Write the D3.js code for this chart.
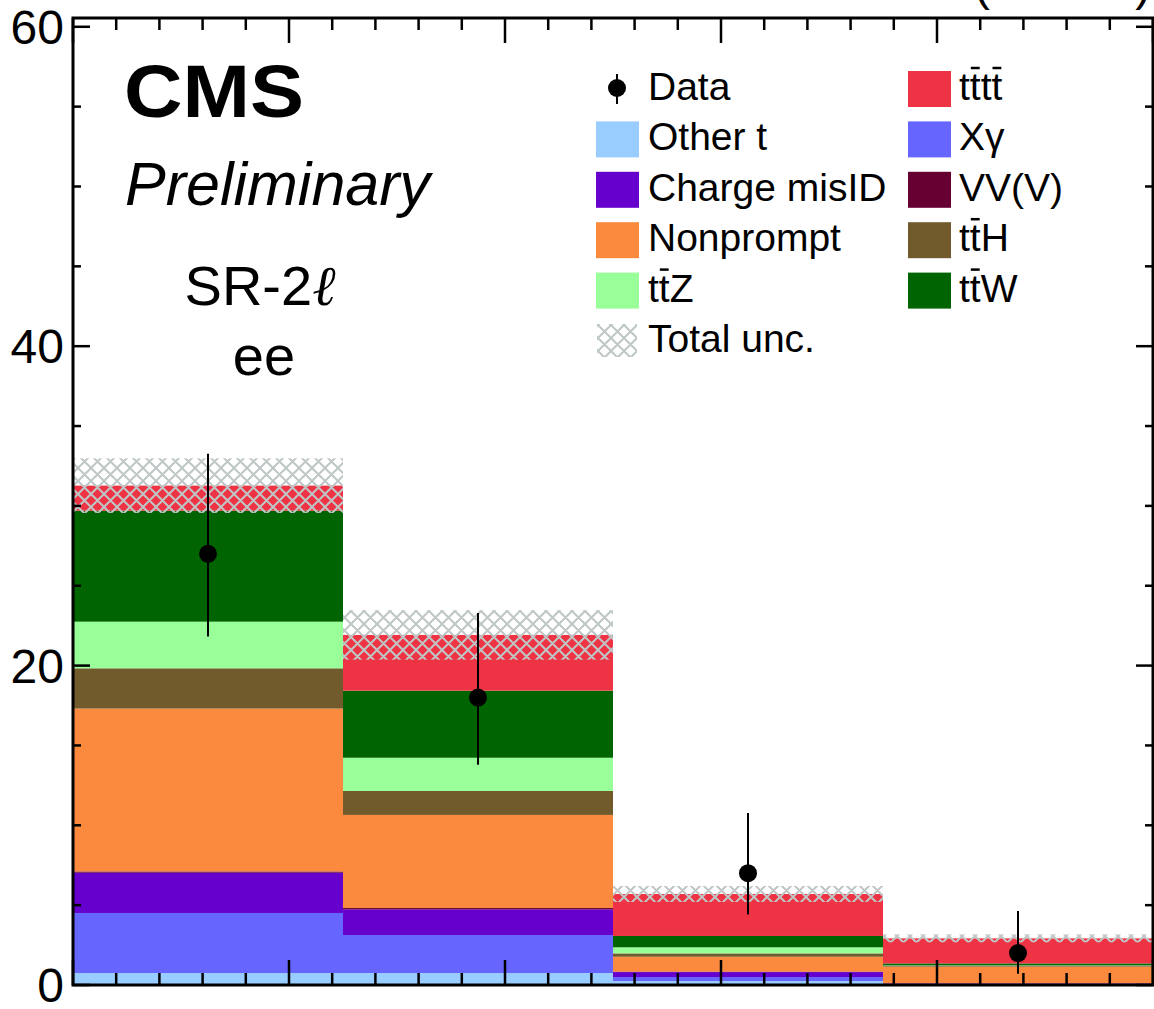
<!DOCTYPE html>
<html>
<head>
<meta charset="utf-8">
<script src="https://cdn.jsdelivr.net/npm/d3@7"></script>
<style>
  body { margin: 0; background: #fff; }
  svg { display: block; }
  text { font-family: "Liberation Sans", Arial, sans-serif; fill: #000; }
</style>
</head>
<body>
<script>
// stacked SR-2l ee yields, 4 bins

// stack order, bottom to top
var processes = ["Other t", "Xγ", "Charge misID", "VV(V)", "Nonprompt", "t[t]H", "t[t]Z", "t[t]W", "t[t]t[t]"];
var colors = ["#99ccff", "#6666ff", "#6600cc", "#660033", "#fb8a3e", "#715b2c", "#99ff99", "#006400", "#ee3344"];

var otherT      = [0.75, 0.75, 0.25, 0.03];
var xGamma      = [3.76, 2.38, 0.25, 0.03];
var chargeMisID = [2.52, 1.61, 0.31, 0.04];
var vvv         = [0.08, 0.08, 0.03, 0.01];
var nonprompt   = [10.2, 5.83, 0.93, 1.04];
var ttH         = [2.52, 1.50, 0.21, 0.06];
var ttZ         = [2.92, 2.08, 0.38, 0.02];
var ttW         = [6.95, 4.20, 0.71, 0.12];
var tttt        = [1.57, 3.49, 2.63, 1.57];

var totalUnc = [1.71, 1.55, 0.50, 0.25];

var dataCounts = [27, 18, 7, 2];
var dataErrUp  = [6.26, 5.29, 3.77, 2.64];
var dataErrDn  = [5.18, 4.21, 2.58, 1.29];

var yTickLabels = [0, 20, 40, 60];

// legend columns
var legendLeft  = ["Data", "Other t", "Charge misID", "Nonprompt", "t[t]Z", "Total unc."];
var legendRight = ["t[t]t[t]", "Xγ", "VV(V)", "t[t]H", "t[t]W"];

var W = 1154, H = 1009;
var pLeft = 73, pRight = 1153, pTop = 18, pBottom = 985;

var svg = d3.select("body").append("svg")
    .attr("width", W)
    .attr("height", H);

var defs = svg.append("defs");
var pat = defs.append("pattern")
    .attr("id", "hatch")
    .attr("patternUnits", "userSpaceOnUse")
    .attr("width", 13)
    .attr("height", 13);
pat.append("path")
    .attr("d", "M0,0L13,13M13,0L0,13M-2,11L2,15M11,-2L15,2M-2,2L2,-2M11,15L15,11")
    .attr("stroke", "#bec6c6")
    .attr("stroke-width", 2)
    .attr("fill", "none");

var x = d3.scaleLinear().domain([0, 4]).range([pLeft, pRight]);
var y = d3.scaleLinear().domain([0, 60.55]).range([pBottom, pTop]);

var series = [otherT, xGamma, chargeMisID, vvv, nonprompt, ttH, ttZ, ttW, tttt];
var table = d3.range(4).map(function(i) {
    var row = { bin: i };
    series.forEach(function(s, k) { row[k] = s[i]; });
    return row;
});
var stack = d3.stack().keys(d3.range(series.length))(table);

var plot = svg.append("g");

stack.forEach(function(layer, k) {
    plot.selectAll(null)
        .data(layer)
        .enter()
        .append("rect")
        .attr("x", function(d) { return x(d.data.bin); })
        .attr("width", x(1) - x(0))
        .attr("y", function(d) { return y(d[1]); })
        .attr("height", function(d) { return y(d[0]) - y(d[1]); })
        .attr("fill", colors[k]);
});

// total uncertainty band
var totals = table.map(function(r, i) {
    return d3.sum(series, function(s) { return s[i]; });
});
plot.selectAll(null)
    .data(totals)
    .enter()
    .append("rect")
    .attr("x", function(d, i) { return x(i); })
    .attr("width", x(1) - x(0))
    .attr("y", function(d, i) { return y(d + totalUnc[i]); })
    .attr("height", function(d, i) { return y(d - totalUnc[i]) - y(d + totalUnc[i]); })
    .attr("fill", "url(#hatch)");

// data points
plot.selectAll(null)
    .data(dataCounts)
    .enter()
    .append("line")
    .attr("x1", function(d, i) { return x(i + 0.5); })
    .attr("x2", function(d, i) { return x(i + 0.5); })
    .attr("y1", function(d, i) { return y(d + dataErrUp[i]); })
    .attr("y2", function(d, i) { return y(d - dataErrDn[i]); })
    .attr("stroke", "#000")
    .attr("stroke-width", 2);
plot.selectAll(null)
    .data(dataCounts)
    .enter()
    .append("circle")
    .attr("cx", function(d, i) { return x(i + 0.5); })
    .attr("cy", function(d) { return y(d); })
    .attr("r", 9)
    .attr("fill", "#000");

// frame and ticks
var axes = svg.append("g").attr("stroke", "#000").attr("stroke-width", 3);
axes.append("rect")
    .attr("x", pLeft).attr("y", pTop)
    .attr("width", pRight - pLeft).attr("height", pBottom - pTop)
    .attr("fill", "none");

d3.range(0, 61, 5).forEach(function(v) {
    var major = v % 20 == 0;
    var len = major ? 17 : 8;
    axes.append("line").attr("x1", pLeft).attr("x2", pLeft + len)
        .attr("y1", y(v)).attr("y2", y(v)).attr("stroke-width", 2.5);
    axes.append("line").attr("x1", pRight).attr("x2", pRight - len)
        .attr("y1", y(v)).attr("y2", y(v)).attr("stroke-width", 2.5);
});

d3.range(0, 26).forEach(function(k) {
    var v = k * 0.16;
    if (v > 4.001) return;
    var major = k % 5 == 0;
    var len = major ? 25 : 12;
    axes.append("line").attr("x1", x(v)).attr("x2", x(v))
        .attr("y1", pBottom).attr("y2", pBottom - len).attr("stroke-width", 2.5);
    axes.append("line").attr("x1", x(v)).attr("x2", x(v))
        .attr("y1", pTop).attr("y2", pTop + len).attr("stroke-width", 2.5);
});

svg.selectAll(null)
    .data(yTickLabels)
    .enter()
    .append("text")
    .attr("x", 64)
    .attr("y", function(d) { return y(d) + 17; })
    .attr("text-anchor", "end")
    .attr("font-size", 48)
    .text(function(d) { return d; });

// lumi label, mostly off the top of the picture
svg.append("text")
    .attr("x", 1151).attr("y", 0)
    .attr("text-anchor", "end")
    .attr("font-size", 47)
    .text("137 fb⁻¹ (13 TeV)");

svg.append("text")
    .attr("x", 124).attr("y", 117)
    .attr("font-size", 74)
    .attr("font-weight", "bold")
    .attr("textLength", 180)
    .attr("lengthAdjust", "spacingAndGlyphs")
    .text("CMS");
svg.append("text")
    .attr("x", 125).attr("y", 205)
    .attr("font-size", 61)
    .attr("font-style", "italic")
    .text("Preliminary");

var sr = svg.append("text")
    .attr("x", 260).attr("y", 305)
    .attr("text-anchor", "middle")
    .attr("font-size", 56);
sr.append("tspan").text("SR-2");
sr.append("tspan")
    .style("font-family", "'DejaVu Serif', serif")
    .style("font-style", "italic")
    .text("ℓ");
svg.append("text")
    .attr("x", 264).attr("y", 375)
    .attr("text-anchor", "middle")
    .attr("font-size", 56)
    .text("ee");

// label with [t] meaning t-bar; the bar is drawn over the glyph afterwards
function addLabel(sel, label, lx, ly) {
    var t = sel.append("text").attr("font-size", 39).attr("x", lx).attr("y", ly);
    var bars = [];
    var plain = "";
    label.split(/(\[t\])/).forEach(function(part) {
        if (part == "") return;
        if (part == "[t]") {
            bars.push(plain.length);
            plain += "t";
        } else {
            plain += part;
        }
    });
    t.text(plain);
    bars.forEach(function(ci) {
        var ext = t.node().getExtentOfChar(ci);
        sel.append("line")
            .attr("x1", ext.x + 1).attr("x2", ext.x + ext.width - 1)
            .attr("y1", ly - 32).attr("y2", ly - 32)
            .attr("stroke", "#000").attr("stroke-width", 2.5);
    });
    return t;
}

var legend = svg.append("g");
var rowY = function(i) { return 100 + i * 50.4; };

legendLeft.forEach(function(name, i) {
    var base = rowY(i);
    if (name == "Data") {
        legend.append("line").attr("x1", 617).attr("x2", 617)
            .attr("y1", base - 26).attr("y2", base + 4)
            .attr("stroke", "#000").attr("stroke-width", 2);
        legend.append("circle").attr("cx", 617).attr("cy", base - 12).attr("r", 9);
    } else if (name == "Total unc.") {
        legend.append("rect").attr("x", 597).attr("y", base - 28)
            .attr("width", 40).attr("height", 33).attr("fill", "url(#hatch)");
    } else {
        var k = processes.indexOf(name);
        legend.append("rect").attr("x", 596).attr("y", base - 29)
            .attr("width", 43).attr("height", 36).attr("fill", colors[k]);
    }
    addLabel(legend, name, 648, base);
});

legendRight.forEach(function(name, i) {
    var base = rowY(i);
    var k = processes.indexOf(name);
    legend.append("rect").attr("x", 908).attr("y", base - 29)
        .attr("width", 43).attr("height", 36).attr("fill", colors[k]);
    addLabel(legend, name, 959, base);
});
</script>
</body>
</html>
